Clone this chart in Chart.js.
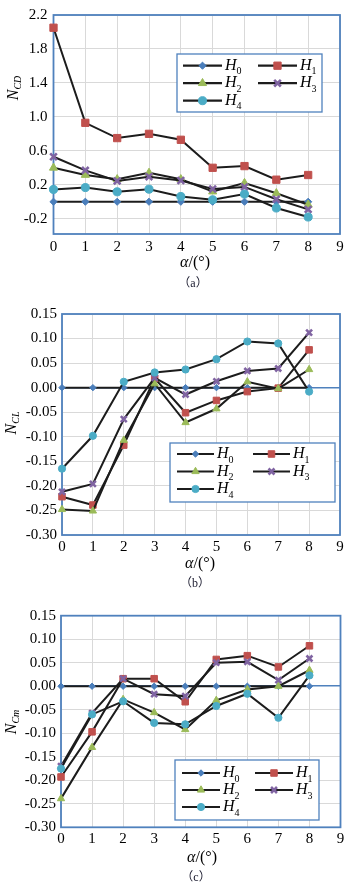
<!DOCTYPE html>
<html>
<head>
<meta charset="utf-8">
<script src="https://cdn.jsdelivr.net/npm/chart.js@4.4.1/dist/chart.umd.min.js"></script>
<style>
html,body{margin:0;padding:0;background:#fff;}
#page{position:relative;width:363px;height:885px;overflow:hidden;font-family:"Liberation Serif","Times New Roman",serif;color:#000;}
canvas{position:absolute;left:0;}
.ytitle{position:absolute;transform:translate(-50%,-50%) rotate(-90deg);font-size:16px;white-space:nowrap;line-height:1;}
.ytitle sub{font-size:10px;vertical-align:-3px;}
.xtitle{position:absolute;transform:translate(-50%,-50%);font-size:16px;white-space:nowrap;line-height:1;}
.cap{position:absolute;transform:translate(-50%,-50%);font-size:12px;white-space:nowrap;line-height:1;font-family:"Liberation Serif","Noto Sans CJK SC",serif;color:#1a1a2e;}
</style>
</head>
<body>
<div id="page">
  <canvas id="cA" width="363" height="290" style="top:0"></canvas>
  <canvas id="cB" width="363" height="300" style="top:290px"></canvas>
  <canvas id="cC" width="363" height="295" style="top:590px"></canvas>

  <div class="ytitle" style="left:14px;top:88px"><i>N</i><sub><i>CD</i></sub></div>
  <div class="xtitle" style="left:195px;top:262px"><i>α</i>/(°)</div>
  <div class="cap" style="left:193px;top:283px">（a）</div>

  <div class="ytitle" style="left:12px;top:423px"><i>N</i><sub><i>CL</i></sub></div>
  <div class="xtitle" style="left:200px;top:563px"><i>α</i>/(°)</div>
  <div class="cap" style="left:195px;top:583px">（b）</div>

  <div class="ytitle" style="left:12px;top:722px"><i>N</i><sub><i>Cm</i></sub></div>
  <div class="xtitle" style="left:202px;top:857px"><i>α</i>/(°)</div>
  <div class="cap" style="left:196px;top:877px">（c）</div>
</div>
<script>
// angle of attack
const alpha = [0, 1, 2, 3, 4, 5, 6, 7, 8];
const seriesSubs = ['0', '1', '2', '3', '4']; // H0 .. H4

// (a) N_CD
const cdH0 = [0, 0, 0, 0, 0, 0, 0, 0, 0];
const cdH1 = [2.05, 0.93, 0.75, 0.80, 0.73, 0.40, 0.42, 0.26, 0.315];
const cdH2 = [0.40, 0.315, 0.265, 0.34, 0.265, 0.12, 0.22, 0.10, -0.035];
const cdH3 = [0.53, 0.37, 0.245, 0.295, 0.25, 0.15, 0.175, 0.03, -0.09];
const cdH4 = [0.145, 0.167, 0.117, 0.148, 0.062, 0.023, 0.09, -0.074, -0.18];
const cdTicks = ['-0.2', '0.2', '0.6', '1.0', '1.4', '1.8', '2.2'];

// (b) N_CL
const clH0 = [0, 0, 0, 0, 0, 0, 0, 0, 0];
const clH1 = [-0.222, -0.239, -0.117, 0.019, -0.051, -0.026, -0.008, -0.001, 0.077];
const clH2 = [-0.248, -0.251, -0.107, 0.008, -0.071, -0.043, 0.012, -0.002, 0.037];
const clH3 = [-0.212, -0.196, -0.064, 0.020, -0.014, 0.013, 0.034, 0.039, 0.112];
const clH4 = [-0.165, -0.098, 0.012, 0.031, 0.037, 0.058, 0.094, 0.090, -0.008];
const clTicks = ['-0.30', '-0.25', '-0.20', '-0.15', '-0.10', '-0.05', '0.00', '0.05', '0.10', '0.15'];

// (c) N_Cm
const cmH0 = [0, 0, 0, 0, 0, 0, 0, 0, 0];
const cmH1 = [-0.193, -0.097, 0.016, 0.016, -0.033, 0.057, 0.065, 0.041, 0.086];
const cmH2 = [-0.239, -0.130, -0.028, -0.056, -0.092, -0.030, -0.007, 0.000, 0.034];
const cmH3 = [-0.170, -0.057, 0.016, -0.017, -0.021, 0.050, 0.052, 0.013, 0.059];
const cmH4 = [-0.175, -0.060, -0.032, -0.078, -0.081, -0.042, -0.016, -0.067, 0.023];
const cmTicks = ['-0.30', '-0.25', '-0.20', '-0.15', '-0.10', '-0.05', '0.00', '0.05', '0.10', '0.15'];

const xTicks = ['0', '1', '2', '3', '4', '5', '6', '7', '8', '9'];

// marker look per series (Excel default palette)
const markers = [
    { style: 'rectRot',  color: '#4a7ebb', r: 3.2, bw: 1 },
    { style: 'rect',     color: '#c0504d', r: 4.6, bw: 1 },
    { style: 'triangle', color: '#9bbb59', r: 4.2, bw: 1 },
    { style: 'crossRot', color: '#8064a2', r: 4.2, bw: 2.6 },
    { style: 'circle',   color: '#4bacc6', r: 3.6, bw: 1 }
];
const BLUE = '#4f81bd';
const FONT = '"Liberation Serif", "Times New Roman", serif';

// frame around the plot area
const framePlugin = {
    id: 'frame',
    beforeDatasetsDraw(chart) {
        const a = chart.chartArea, ctx = chart.ctx;
        ctx.save();
        ctx.strokeStyle = BLUE;
        ctx.lineWidth = 1.8;
        ctx.strokeRect(a.left, a.top, a.right - a.left, a.bottom - a.top);
        ctx.restore();
    }
};

// legend box drawn inside the plot
const boxLegend = {
    id: 'boxLegend',
    afterDatasetsDraw(chart, args, o) {
        const ctx = chart.ctx;
        ctx.save();
        ctx.fillStyle = '#fff';
        ctx.fillRect(o.x, o.y, o.w, o.h);
        ctx.strokeStyle = BLUE;
        ctx.lineWidth = 1.3;
        ctx.strokeRect(o.x, o.y, o.w, o.h);
        chart.data.datasets.forEach(function(ds, i) {
            const col = i % 2, row = Math.floor(i / 2);
            const lx = o.x + o.padX + col * o.colW;
            const ly = o.y + o.padY + row * o.rowH;
            ctx.strokeStyle = ds.borderColor;
            ctx.lineWidth = 2.2;
            ctx.beginPath();
            ctx.moveTo(lx, ly);
            ctx.lineTo(lx + o.lineW, ly);
            ctx.stroke();
            ctx.fillStyle = ds.pointBackgroundColor;
            ctx.strokeStyle = ds.pointBorderColor;
            ctx.lineWidth = ds.pointBorderWidth;
            Chart.helpers.drawPoint(ctx, {
                pointStyle: ds.pointStyle, radius: ds.pointRadius,
                borderWidth: ds.pointBorderWidth, rotation: 0
            }, lx + o.lineW / 2, ly);
            const tx = lx + o.lineW + 3;
            ctx.fillStyle = '#000';
            ctx.textBaseline = 'middle';
            ctx.textAlign = 'left';
            ctx.font = 'italic 16px ' + FONT;
            ctx.fillText('H', tx, ly);
            const w = ctx.measureText('H').width;
            ctx.font = '10px ' + FONT;
            ctx.fillText(ds.sub, tx + w, ly + 6);
        });
        ctx.restore();
    }
};

function makeChart(id, series, cfg) {
    const canvas = document.getElementById(id);
    const W = canvas.width, H = canvas.height, area = cfg.area;
    const datasets = series.map(function(vals, i) {
        const m = markers[i];
        return {
            sub: seriesSubs[i],
            data: alpha.map(function(a, k) { return { x: a, y: vals[k] }; }),
            borderColor: '#1c1c1c',
            borderWidth: 2,
            pointStyle: m.style,
            pointRadius: m.r * cfg.mk,
            pointBorderWidth: m.bw,
            pointBackgroundColor: m.color,
            pointBorderColor: m.color,
            tension: 0,
            clip: false,
            order: series.length - i
        };
    });
    return new Chart(canvas.getContext('2d'), {
        type: 'line',
        data: { datasets: datasets },
        options: {
            responsive: false,
            animation: false,
            devicePixelRatio: 1,
            layout: { padding: { left: 0, top: area.top, right: W - area.right, bottom: 0 } },
            plugins: {
                legend: { display: false },
                tooltip: { enabled: false },
                boxLegend: cfg.legend
            },
            scales: {
                x: {
                    type: 'linear', min: 0, max: 9,
                    afterBuildTicks: function(s) {
                        s.ticks = xTicks.map(function(t) { return { value: +t }; });
                    },
                    afterFit: function(s) { s.height = H - area.bottom; },
                    grid: { color: '#d9d9d9', lineWidth: 1, drawTicks: false },
                    border: { display: false },
                    ticks: { color: '#000', font: { family: FONT, size: 15 }, padding: cfg.xPad, maxRotation: 0,
                        callback: function(v) { return String(v); } }
                },
                y: {
                    type: 'linear', min: cfg.yMin, max: cfg.yMax,
                    afterBuildTicks: function(s) {
                        const t = [];
                        for (let i = 0; cfg.yMax - i * cfg.step >= cfg.yMin - 1e-9; i++) {
                            t.push({ value: +(cfg.yMax - i * cfg.step).toFixed(4) });
                        }
                        s.ticks = t;
                    },
                    afterFit: function(s) { s.width = area.left; },
                    grid: {
                        drawTicks: false,
                        color: function(c) { return Math.abs(c.tick.value) < 1e-9 ? BLUE : '#d9d9d9'; },
                        lineWidth: function(c) { return Math.abs(c.tick.value) < 1e-9 ? 1.5 : 1; }
                    },
                    border: { display: false },
                    ticks: {
                        color: '#000', font: { family: FONT, size: 15 }, padding: cfg.yPad,
                        callback: function(v) {
                            const hit = cfg.labels.find(function(l) { return Math.abs(parseFloat(l) - v) < 1e-6; });
                            return hit === undefined ? '' : hit;
                        }
                    }
                }
            }
        },
        plugins: [framePlugin, boxLegend]
    });
}

makeChart('cA', [cdH0, cdH1, cdH2, cdH3, cdH4], {
    area: { left: 53.5, top: 12.7, right: 340, bottom: 234 },
    yMin: -0.38, yMax: 2.2, step: 0.2, labels: cdTicks, mk: 1.12, xPad: 4, yPad: 6,
    legend: { x: 177, y: 54, w: 145, h: 58, padX: 6, padY: 11.7, rowH: 17.5, colW: 75, lineW: 39 }
});
makeChart('cB', [clH0, clH1, clH2, clH3, clH4], {
    area: { left: 62, top: 24, right: 340, bottom: 245 },
    yMin: -0.30, yMax: 0.15, step: 0.05, labels: clTicks, mk: 1, xPad: 3, yPad: 5,
    legend: { x: 170, y: 153, w: 165, h: 59, padX: 7, padY: 11, rowH: 17.5, colW: 76, lineW: 37 }
});
makeChart('cC', [cmH0, cmH1, cmH2, cmH3, cmH4], {
    area: { left: 61, top: 25.7, right: 340.5, bottom: 237.3 },
    yMin: -0.30, yMax: 0.15, step: 0.05, labels: cmTicks, mk: 1, xPad: 3, yPad: 5,
    legend: { x: 175, y: 170, w: 144, h: 60, padX: 7, padY: 13, rowH: 17, colW: 73, lineW: 38 }
});
</script>
</body>
</html>
